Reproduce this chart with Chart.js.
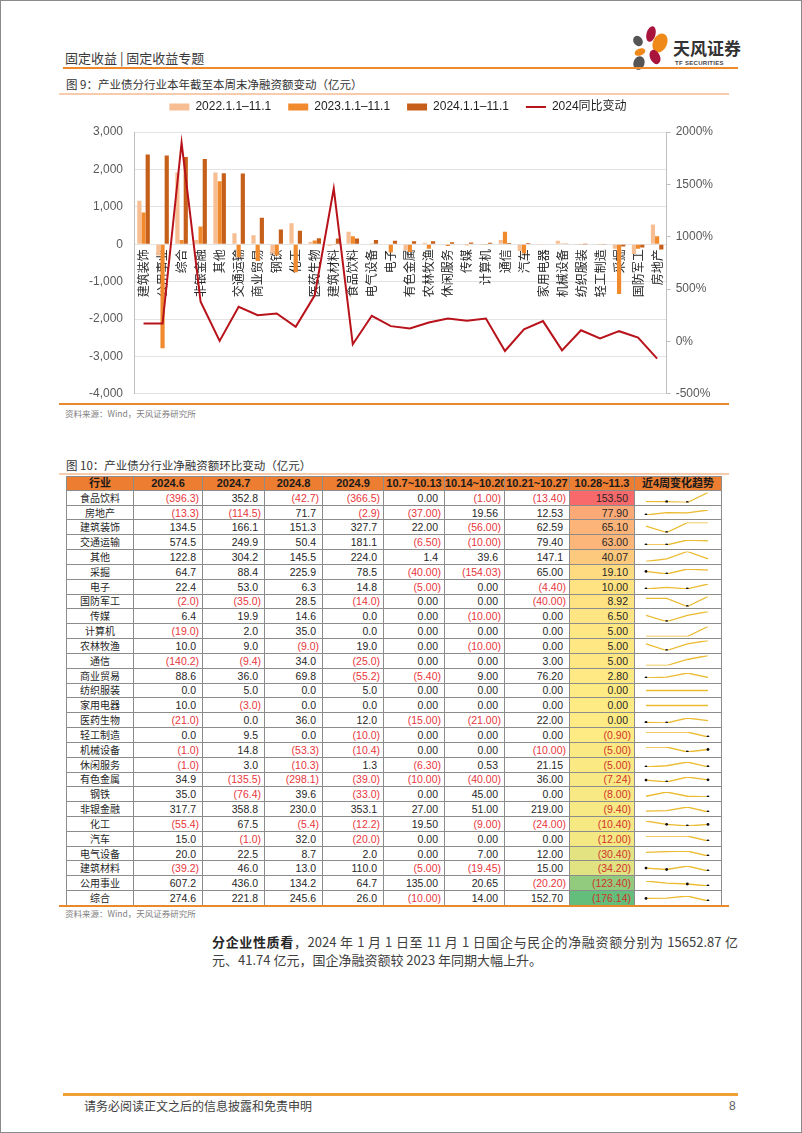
<!DOCTYPE html>
<html lang="zh-CN">
<head>
<meta charset="utf-8">
<title>产业债分行业净融资额</title>
<script src="https://cdn.jsdelivr.net/npm/chart.js@4.4.1/dist/chart.umd.min.js"></script>
<style>
  html, body { margin: 0; padding: 0; background: #fff; }
  body { width: 802px; height: 1133px; position: relative; overflow: hidden;
         font-family: "Liberation Sans", Arial, "Noto Sans CJK SC", sans-serif; color: #262626; }
  .frame { position: absolute; left: 0; top: 0; width: 802px; height: 1133px; box-sizing: border-box; border: 1px solid #8a8a8a; }
  .abs { position: absolute; white-space: nowrap; }
  .cjk { font-family: "Noto Sans CJK SC", sans-serif; }
  .hline { position: absolute; }
  .fig-title { font-size: 11.5px; color: #333; line-height: 14px; }
  .source { font-size: 8.5px; color: #808080; line-height: 10px; }
  #tbl { position: absolute; left: 66px; top: 476px; width: 655px; height: 430px;
         border-collapse: collapse; table-layout: fixed; font-size: 10.5px; }
  #tbl td, #tbl th { border: 1px solid #8c8c8c; padding: 0 3px; height: 12px; line-height: 12px; overflow: hidden; white-space: nowrap; }
  #tbl th { background: #ED7D31; font-weight: bold; color: #1a1a1a; text-align: center; padding: 0; font-size: 11px; }
  #tbl td.name { text-align: center; font-family: "Noto Sans CJK SC", sans-serif; font-size: 10px; }
  #tbl td.num { text-align: right; }
  #tbl td.pos { padding-right: 6px; }
  #tbl td.neg { color: #E8363C; }
  #tbl td.last.neg { color: #D0332B; }
  #tbl td.spark { padding: 0; }
  #tbl td.spark canvas { display: block; }
  .body-text { font-family: "Noto Sans CJK SC", sans-serif; font-size: 13px; color: #404040; line-height: 18px; width: 526px; }
  .body-text div { text-align: justify; text-align-last: justify; }
  .body-text div.l2 { text-align-last: left; }
</style>
</head>
<body>
<div class="frame"></div>

<!-- header -->
<div class="abs cjk" style="left:65px; top:49px; font-size:13px; color:#3a3a3a; line-height:18px;">固定收益 | 固定收益专题</div>
<svg class="abs" style="left:628px; top:24px;" width="44" height="48" viewBox="0 0 44 48">
  <ellipse cx="23" cy="10" rx="4.5" ry="8" fill="#A8143C" transform="rotate(15 23 10)"/>
  <ellipse cx="10" cy="17" rx="4.5" ry="5.5" fill="#555" transform="rotate(-35 10 17)"/>
  <ellipse cx="32" cy="19" rx="7" ry="10" fill="#EF8A1A" transform="rotate(25 32 19)"/>
  <ellipse cx="12" cy="28" rx="5.5" ry="3.5" fill="#EF8A1A" transform="rotate(-20 12 28)"/>
  <ellipse cx="11" cy="39" rx="5.5" ry="7" fill="#555" transform="rotate(20 11 39)"/>
  <ellipse cx="27" cy="33" rx="5" ry="7.5" fill="#A8143C" transform="rotate(-25 27 33)"/>
</svg>
<div class="abs cjk" style="left:673px; top:37px; font-size:17px; font-weight:bold; color:#333; line-height:22px;">天风证券</div>
<div class="abs" style="left:675px; top:59px; font-size:6px; font-weight:bold; color:#444; line-height:8px; letter-spacing:0.3px;">TF SECURITIES</div>
<div class="hline" style="left:63px; top:67px; width:675px; height:2px; background:#EE8A2A;"></div>

<!-- figure 9 -->
<div class="abs cjk fig-title" style="left:66px; top:77px;">图 9：产业债分行业本年截至本周末净融资额变动（亿元）</div>
<div class="hline" style="left:59px; top:93px; width:670px; height:1.5px; background:#F8CBAD;"></div>
<div class="hline" style="left:59px; top:403px; width:670px; height:1.5px; background:#E8892C;"></div>
<div class="abs cjk source" style="left:65px; top:408px;">资料来源：Wind，天风证券研究所</div>
<div class="abs" style="left:59px; top:84px; width:670px; height:328px;"><canvas id="chartFlow"></canvas></div>

<!-- figure 10 -->
<div class="abs cjk fig-title" style="left:66px; top:458px;">图 10：产业债分行业净融资额环比变动（亿元）</div>
<div class="hline" style="left:59px; top:473px; width:670px; height:1.5px; background:#F8CBAD;"></div>
<table id="tbl"></table>
<div class="hline" style="left:59px; top:905px; width:670px; height:1.5px; background:#E8892C;"></div>
<div class="abs cjk source" style="left:65px; top:908px;">资料来源：Wind，天风证券研究所</div>

<!-- text -->
<div class="abs body-text" style="left:212px; top:933px;">
  <div><b style="color:#262626;">分企业性质看</b>，2024 年 1 月 1 日至 11 月 1 日国企与民企的净融资额分别为 15652.87 亿</div>
  <div class="l2">元、41.74 亿元，国企净融资额较 2023 年同期大幅上升。</div>
</div>

<!-- footer -->
<div class="hline" style="left:63px; top:1093px; width:675px; height:2.5px; background:#F0A035;"></div>
<div class="abs cjk" style="left:84px; top:1098px; font-size:12px; color:#404040; line-height:16px;">请务必阅读正文之后的信息披露和免责申明</div>
<div class="abs" style="left:729px; top:1098px; font-size:12px; color:#606060; line-height:16px;">8</div>

<script>
// ---- 图9 数据 ----
const categories = ['建筑装饰', '公用事业', '综合', '非银金融', '其他', '交通运输', '商业贸易', '钢铁', '化工', '医药生物',
    '建筑材料', '食品饮料', '电气设备', '电子', '有色金属', '农林牧渔', '休闲服务', '传媒', '计算机', '通信',
    '汽车', '家用电器', '机械设备', '纺织服装', '轻工制造', '采掘', '国防军工', '房地产'];
const flow2022 = [1160, -300, 1920, 110, 1920, 290, 240, -250, 560, 60,
    -40, 330, 10, 10, -160, 40, 10, 10, -20, 110,
    -180, -20, 90, -10, 10, -120, -260, 530];
const flow2023 = [845, -2785, 110, 470, 1680, -350, -450, -300, -750, 100,
    -20, 215, 20, -225, -210, -120, -50, -30, -20, 330,
    -250, 0, 20, -20, -10, -1330, -120, 215];
const flow2024 = [2400, 2370, 2330, 2280, 1900, 1890, 710, 395, 360, 160,
    150, 150, 110, 90, 80, 80, 55, 45, 40, 35,
    30, 10, 8, 2, -5, -60, -90, -145];
const yoy2024 = [171, 171, 1898, 379, 5, 331, 251, 267, 140, 440,
    1460, -27, 245, 146, 123, 181, 219, 197, 219, -91,
    115, 194, -85, 107, 28, 98, 37, -164];
const seriesNames = ['2022.1.1–11.1', '2023.1.1–11.1', '2024.1.1–11.1', '2024同比变动'];
const leftTicks = [-4000, -3000, -2000, -1000, 0, 1000, 2000, 3000];
const rightTicks = [-500, 0, 500, 1000, 1500, 2000];

// ---- 图10 数据 ----
const tableHeaders = ['行业', '2024.6', '2024.7', '2024.8', '2024.9', '10.7~10.13', '10.14~10.20', '10.21~10.27', '10.28~11.3', '近4周变化趋势'];
const tableIndustries = ['食品饮料', '房地产', '建筑装饰', '交通运输', '其他', '采掘', '电子', '国防军工', '传媒', '计算机',
    '农林牧渔', '通信', '商业贸易', '纺织服装', '家用电器', '医药生物', '轻工制造', '机械设备', '休闲服务', '有色金属',
    '钢铁', '非银金融', '化工', '汽车', '电气设备', '建筑材料', '公用事业', '综合'];
const m2024_6 = [-396.3, -13.3, 134.5, 574.5, 122.8, 64.7, 22.4, -2.0, 6.4, -19.0,
    10.0, -140.2, 88.6, 0.0, 10.0, -21.0, 0.0, -1.0, -1.0, 34.9,
    35.0, 317.7, -55.4, 15.0, 20.0, -39.2, 607.2, 274.6];
const m2024_7 = [352.8, -114.5, 166.1, 249.9, 304.2, 88.4, 53.0, -35.0, 19.9, 2.0,
    9.0, -9.4, 36.0, 5.0, -3.0, 0.0, 9.5, 14.8, 3.0, -135.5,
    -76.4, 358.8, 67.5, -1.0, 22.5, 46.0, 436.0, 221.8];
const m2024_8 = [-42.7, 71.7, 151.3, 50.4, 145.5, 225.9, 6.3, 28.5, 14.6, 35.0,
    -9.0, 34.0, 69.8, 0.0, 0.0, 36.0, 0.0, -53.3, -10.3, -298.1,
    39.6, 230.0, -5.4, 32.0, 8.7, 13.0, 134.2, 245.6];
const m2024_9 = [-366.5, -2.9, 327.7, 181.1, 224.0, 78.5, 14.8, -14.0, 0.0, 0.0,
    19.0, -25.0, -55.2, 5.0, 0.0, 12.0, -10.0, -10.4, 1.3, -39.0,
    -33.0, 353.1, -12.2, -20.0, 2.0, 110.0, 64.7, 26.0];
const wk1 = [0.00, -37.00, 22.00, -6.50, 1.4, -40.00, -5.00, 0.00, 0.00, 0.00,
    0.00, 0.00, -5.40, 0.00, 0.00, -15.00, 0.00, 0.00, -6.30, -10.00,
    0.00, 27.00, 19.50, 0.00, 0.00, -5.00, 135.00, -10.00];
const wk2 = [-1.00, 19.56, -56.00, -10.00, 39.6, -154.03, 0.00, 0.00, -10.00, 0.00,
    -10.00, 0.00, 9.00, 0.00, 0.00, -21.00, 0.00, 0.00, 0.53, -40.00,
    45.00, 51.00, -9.00, 0.00, 7.00, -19.45, 20.65, 14.00];
const wk3 = [-13.40, 12.53, 62.59, 79.40, 147.1, 65.00, -4.40, -40.00, 0.00, 0.00,
    0.00, 3.00, 76.20, 0.00, 0.00, 22.00, 0.00, -10.00, 21.15, 36.00,
    0.00, 219.00, -24.00, 0.00, 12.00, 15.00, -20.20, 152.70];
const wk4 = [153.50, 77.90, 65.10, 63.00, 40.07, 19.10, 10.00, 8.92, 6.50, 5.00,
    5.00, 5.00, 2.80, 0.00, 0.00, 0.00, -0.90, -5.00, -5.00, -7.24,
    -8.00, -9.40, -10.40, -12.00, -30.40, -34.20, -123.40, -176.14];
const oneDecimalWeekRows = ['其他'];

const latinFont = '"Liberation Sans", Arial, "Noto Sans CJK SC", sans-serif';
const cjkFont = '"Noto Sans CJK SC", "Liberation Sans", sans-serif';

// ---- 图9 图表 ----
Chart.defaults.font.family = latinFont;
Chart.defaults.animation = false;

new Chart(document.getElementById('chartFlow'), {
    type: 'bar',
    data: {
        labels: categories,
        datasets: [
            { label: seriesNames[0], data: flow2022, backgroundColor: '#F7BE93', pointStyle: 'rect', yAxisID: 'y' },
            { label: seriesNames[1], data: flow2023, backgroundColor: '#F08A2C', pointStyle: 'rect', yAxisID: 'y' },
            { label: seriesNames[2], data: flow2024, backgroundColor: '#C65F19', pointStyle: 'rect', yAxisID: 'y' },
            {
                type: 'line', label: seriesNames[3], data: yoy2024, yAxisID: 'y1', order: -1,
                borderColor: '#B8121B', borderWidth: 2, pointRadius: 0, pointStyle: 'line', tension: 0
            }
        ]
    },
    options: {
        responsive: true,
        maintainAspectRatio: false,
        categoryPercentage: 0.66,
        barPercentage: 1,
        layout: { padding: { left: 19, right: 11, top: 0, bottom: 4 } },
        plugins: {
            legend: {
                position: 'top',
                labels: {
                    usePointStyle: true, pointStyleWidth: 20, boxHeight: 7, padding: 17,
                    color: '#1f1f1f', font: { size: 12 },
                    sort: (a, b) => a.datasetIndex - b.datasetIndex
                }
            },
            tooltip: { enabled: false }
        },
        scales: {
            x: {
                position: { y: 0 },
                z: 1,
                grid: { display: false, drawTicks: false },
                border: { display: false },
                ticks: {
                    autoSkip: false, maxRotation: 90, minRotation: 90, padding: 5,
                    color: '#262626', font: { size: 12, family: cjkFont }
                }
            },
            y: {
                position: 'left',
                min: leftTicks[0], max: leftTicks[leftTicks.length - 1],
                afterBuildTicks: axis => { axis.ticks = leftTicks.map(v => ({ value: v })); },
                grid: { color: '#E3E3E3', drawTicks: false },
                border: { display: true, color: '#BFBFBF' },
                ticks: {
                    padding: 11, color: '#595959', font: { size: 12 },
                    callback: v => v.toLocaleString('en-US')
                }
            },
            y1: {
                position: 'right',
                min: rightTicks[0], max: rightTicks[rightTicks.length - 1],
                afterBuildTicks: axis => { axis.ticks = rightTicks.map(v => ({ value: v })); },
                grid: { drawOnChartArea: false, color: '#BFBFBF', tickLength: 4 },
                border: { display: true, color: '#BFBFBF' },
                ticks: {
                    padding: 5, color: '#595959', font: { size: 12 },
                    callback: v => v + '%'
                }
            }
        }
    },
    plugins: [{
        // 图例与绘图区之间多留一点空隙
        id: 'legendGap',
        beforeInit(chart) {
            const fit = chart.legend.fit;
            chart.legend.fit = function () {
                fit.call(this);
                this.height += 9;
            };
        }
    }]
});

// ---- 图10 表格 ----
function fmt(v, decimals) {
    const s = Math.abs(v).toFixed(decimals);
    return v < 0 ? '(' + s + ')' : s;
}

// Excel 三色刻度：最小值绿、中位数黄、最大值红
function scaleColor(v, min, mid, max) {
    const red = [248, 105, 107], yellow = [255, 235, 132], green = [99, 190, 123];
    let from, to, t;
    if (v >= mid) { from = yellow; to = red; t = (v - mid) / (max - mid); }
    else { from = yellow; to = green; t = (mid - v) / (mid - min); }
    const c = from.map((f, i) => Math.round(f + (to[i] - f) * t));
    return 'rgb(' + c.join(',') + ')';
}

const tbl = document.getElementById('tbl');
const colWidths = [67, 69, 62, 58, 61, 61, 60, 65, 65, 87];
let html = '<colgroup>' + colWidths.map(w => '<col style="width:' + w + 'px">').join('') + '</colgroup>';
html += '<tr>' + tableHeaders.map(h => '<th>' + h + '</th>').join('') + '</tr>';

const sorted = wk4.slice().sort((a, b) => a - b);
const median = (sorted[13] + sorted[14]) / 2;
const wkMin = sorted[0], wkMax = sorted[sorted.length - 1];

tableIndustries.forEach((name, i) => {
    const monthly = [m2024_6[i], m2024_7[i], m2024_8[i], m2024_9[i]];
    const weekly = [wk1[i], wk2[i], wk3[i]];
    const wd = oneDecimalWeekRows.includes(name) ? 1 : 2;
    let row = '<tr><td class="name">' + name + '</td>';
    monthly.forEach(v => { row += '<td class="num ' + (v < 0 ? 'neg' : 'pos') + '">' + fmt(v, 1) + '</td>'; });
    weekly.forEach(v => { row += '<td class="num ' + (v < 0 ? 'neg' : 'pos') + '">' + fmt(v, wd) + '</td>'; });
    row += '<td class="num last ' + (wk4[i] < 0 ? 'neg' : 'pos') + '" style="background:' +
        scaleColor(wk4[i], wkMin, median, wkMax) + '">' + fmt(wk4[i], 2) + '</td>';
    row += '<td class="spark"><canvas id="spark' + i + '" width="86" height="13"></canvas></td></tr>';
    html += row;
});
tbl.innerHTML = html;

// 近4周走势迷你图（负值点标黑，纵轴按本行最小/最大值）
tableIndustries.forEach((name, i) => {
    const vals = [wk1[i], wk2[i], wk3[i], wk4[i]];
    const lo = Math.min(...vals), hi = Math.max(...vals);
    const yScale = lo === hi ? { display: false } : { display: false, min: lo, max: hi };
    new Chart(document.getElementById('spark' + i), {
        type: 'line',
        data: {
            labels: ['1', '2', '3', '4'],
            datasets: [{
                data: vals,
                borderColor: '#EBBB32',
                borderWidth: 1.3,
                tension: 0,
                pointRadius: ctx => (ctx.raw < 0 ? 1.4 : 0),
                pointBackgroundColor: '#111',
                pointBorderWidth: 0
            }]
        },
        options: {
            responsive: false,
            events: [],
            layout: { padding: { left: 11, right: 13, top: 1.5, bottom: 1.5 } },
            plugins: { legend: { display: false }, tooltip: { enabled: false } },
            scales: { x: { display: false }, y: yScale }
        }
    });
});
</script>
</body>
</html>
